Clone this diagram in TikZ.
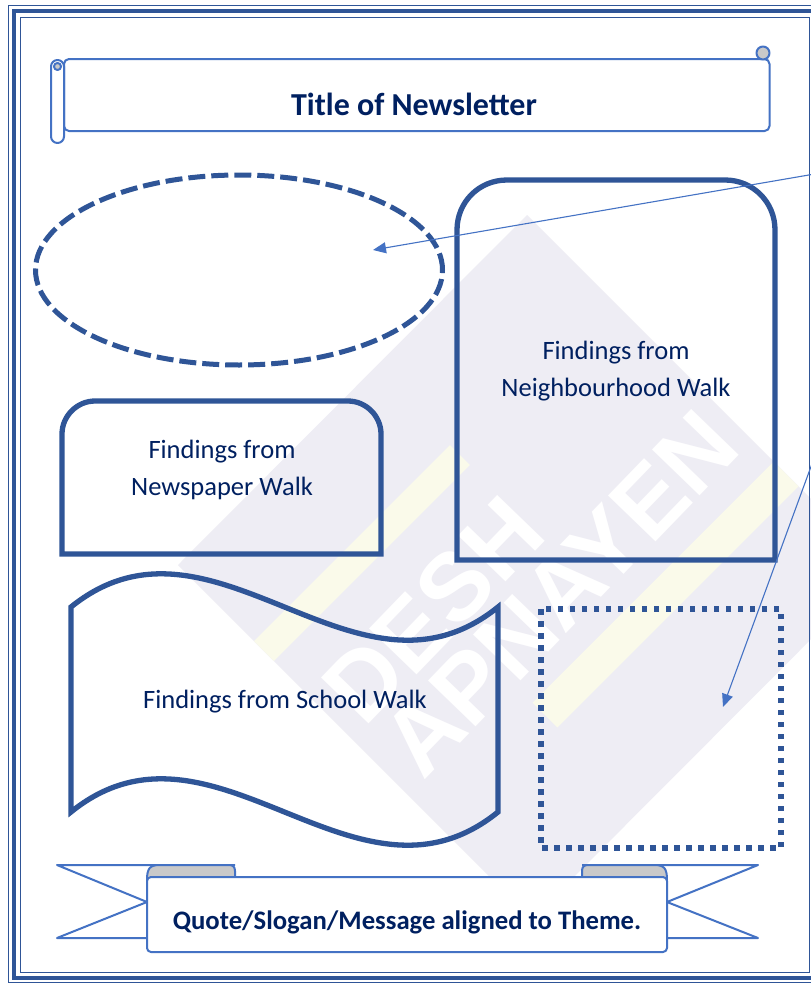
\documentclass[tikz,border=0pt]{standalone}
\usepackage{fontspec}
\setmainfont{Carlito}
\newfontfamily\markfont{Liberation Sans}
\usetikzlibrary{arrows.meta,shapes.geometric,positioning}
\definecolor{frameblue}{HTML}{2F5597}
\definecolor{scrollblue}{HTML}{4472C4}
\definecolor{textnavy}{HTML}{002060}
\definecolor{marklilac}{HTML}{EEEDF4}
\definecolor{markyellow}{HTML}{FAFAEA}
\definecolor{foldgrey}{HTML}{C9C9C9}

\begin{document}
\begin{tikzpicture}[x=1pt,y=-1pt,
    shapeline/.style={draw=frameblue, line width=5.3pt},
    scrollline/.style={draw=scrollblue, line width=2pt, line join=round},
    findings/.style={text=textnavy, align=center, font=\fontsize{26.5}{36.5}\selectfont},
    banner/.style={text=textnavy, font=\bfseries\fontsize{#1}{#1}\selectfont},
    callout/.style={draw=scrollblue, line width=1.1pt, -{Triangle[length=13pt,width=11pt]}}]
    \clip (0,0) rectangle (811,983);
    \fill[white] (0,0) rectangle (811,983);

    % watermark
    \fill[marklilac] (527,215) -- (881,569) -- (532,919) -- (178,565) -- cycle;
    \draw[markyellow, line width=28pt] (264,651) -- (460,455);
    \draw[markyellow, line width=35pt] (545,715) -- (786,474);
    \node[rotate=46, text=white, font=\markfont\bfseries\fontsize{96}{96}\selectfont] (deshword) at (433,610) {DESH};
    \node[rotate=46, text=white, font=\markfont\bfseries\fontsize{96}{96}\selectfont] (apnayenword) at (560,593) {APNAYEN};

    % frame
    \draw[frameblue, line width=1.2pt] (8.5,5.5) rectangle (821,982.5);
    \draw[frameblue, line width=4pt] (14,11) rectangle (816,977.5);
    \draw[frameblue, line width=1.5pt] (20.5,17.5) rectangle (809.5,972.5);

    % title scroll
    \draw[scrollline, fill=white, rounded corners=5] (64,59) -- (769.5,59) -- (769.5,131) -- (64,131) -- cycle;
    \draw[scrollline, fill=foldgrey] (763,53) circle (6.5);
    \draw[scrollline, fill=white, rounded corners=6.5] (51,60) rectangle (64,143);
    \draw[scrollline, fill=foldgrey] (57.5,66.5) circle (3.5);
    \node[banner=32] (title) at (414,104) {Title of Newsletter};

    % boxes
    \node[ellipse, draw=frameblue, line width=5pt, dash pattern=on 17pt off 6pt,
          minimum width=407pt, minimum height=190pt, inner sep=0pt] (photooval) at (239,270) {};
    \draw[shapeline] (457,560) -- (457,230) .. controls (457,202) and (479,180) .. (507,180)
        -- (725,180) .. controls (753,180) and (775,202) .. (775,230) -- (775,560) -- cycle;
    \node[findings] (neighbourhood) at (616,371) {Findings from\\Neighbourhood Walk};
    \draw[shapeline] (62,554) -- (62,434) .. controls (62,416) and (77,401) .. (95,401)
        -- (348,401) .. controls (366,401) and (381,416) .. (381,434) -- (381,554) -- cycle;
    \node[findings] (newspaper) at (222,470) {Findings from\\Newspaper Walk};
    \draw[shapeline] (71,607) .. controls (213,492) and (356,722) .. (498,607)
        -- (498,812) .. controls (356,927) and (213,697) .. (71,812) -- cycle;
    \node[findings] (school) at (285,702) {Findings from School Walk};
    \draw[frameblue, line width=5.3pt, dash pattern=on 5.5pt off 6.5pt] (541,609) rectangle (781,848);

    % quote ribbon
    \draw[scrollline, fill=white] (235,865) -- (57,865) -- (147,902) -- (57,938) -- (147,938);
    \draw[scrollline, fill=white] (582,865) -- (758,865) -- (667,902) -- (758,938) -- (667,938);
    \draw[scrollline, fill=foldgrey] (147,880) .. controls (147,868) and (150,865) .. (160,865)
        -- (229,865) .. controls (233,865) and (235,867) .. (235,871) -- (235,880) -- cycle;
    \draw[scrollline, fill=foldgrey] (667,880) .. controls (667,868) and (664,865) .. (654,865)
        -- (588,865) .. controls (584,865) and (582,867) .. (582,871) -- (582,880) -- cycle;
    \draw[scrollline, fill=white, rounded corners=4] (147,877) rectangle (667,952);
    \node[banner=26.7] (quote) at (407,922) {Quote/Slogan/Message aligned to Theme.};

    % callouts
    \coordinate (calloutsrc) at (925,155);
    \coordinate (ovaltip) at (373,250);
    \coordinate (dottip) at (723,707);
    \draw[callout] (calloutsrc) -- (ovaltip);
    \draw[callout] (calloutsrc) -- (dottip);
\end{tikzpicture}
\end{document}
